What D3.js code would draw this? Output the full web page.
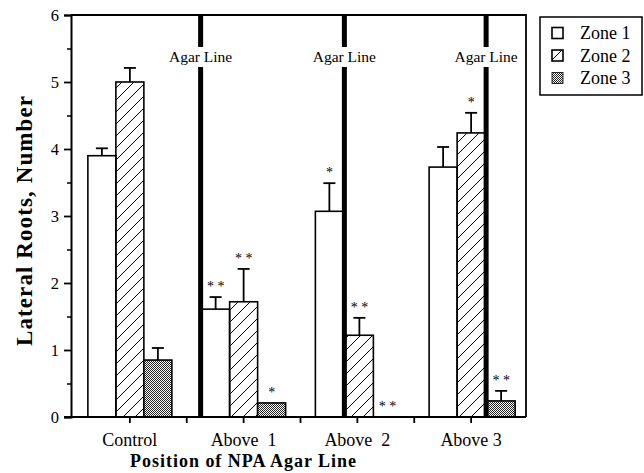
<!DOCTYPE html>
<html>
<head>
<meta charset="utf-8">
<script src="https://cdn.jsdelivr.net/npm/d3@7"></script>
<style>
  body { margin: 0; background: #fff; }
  svg { display: block; font-family: "Liberation Serif", "Times New Roman", serif; }
</style>
</head>
<body>
<div id="chart"></div>
<script>
const positions = ["Control", "Above  1", "Above  2", "Above 3"];
const zones = ["Zone 1", "Zone 2", "Zone 3"];

// mean lateral roots per zone, one array per zone
const zone1Means = [3.9, 1.61, 3.07, 3.73];
const zone2Means = [5.0, 1.72, 1.22, 4.24];
const zone3Means = [0.85, 0.21, 0.0, 0.24];

// top of the error bars (null = none drawn)
const zone1Err = [4.01, 1.79, 3.49, 4.03];
const zone2Err = [5.21, 2.21, 1.48, 4.54];
const zone3Err = [1.03, null, null, 0.39];

// significance marks
const zone1Stars = ["", "* *", "*", ""];
const zone2Stars = ["", "* *", "* *", "*"];
const zone3Stars = ["", "*", "* *", "* *"];

// where the agar line sits in each group: zone boundary index (null = no line)
const agarBoundary = [null, 0, 1, 2];
const yTicks = [0, 1, 2, 3, 4, 5, 6];

const width = 644, height = 473;
const plot = { left: 71, right: 526, top: 15, bottom: 417 };

const svg = d3.select("#chart").append("svg")
  .attr("width", width)
  .attr("height", height);

const defs = svg.append("defs");
const hatch = defs.append("pattern")
  .attr("id", "hatch")
  .attr("patternUnits", "userSpaceOnUse")
  .attr("width", 12).attr("height", 12);
hatch.append("path")
  .attr("d", "M0,12 L12,0 M-3,3 L3,-3 M9,15 L15,9")
  .attr("stroke", "#000").attr("stroke-width", 1);

const stip = defs.append("pattern")
  .attr("id", "stipple")
  .attr("patternUnits", "userSpaceOnUse")
  .attr("width", 2).attr("height", 2);
stip.append("rect").attr("width", 2).attr("height", 2).attr("fill", "#fff");
stip.append("rect").attr("width", 1).attr("height", 1).attr("fill", "#222");
stip.append("rect").attr("x", 1).attr("y", 1).attr("width", 1).attr("height", 1).attr("fill", "#222");

const fills = ["#fff", "url(#hatch)", "url(#stipple)"];

const x = d3.scaleBand().domain(positions).range([73, 528]);
const xZone = d3.scaleBand().domain(zones).range([0, 84]);
const y = d3.scaleLinear().domain([0, 6]).range([plot.bottom, plot.top]);

const means = [zone1Means, zone2Means, zone3Means];
const errs = [zone1Err, zone2Err, zone3Err];
const stars = [zone1Stars, zone2Stars, zone3Stars];

const bars = [];
positions.forEach((p, i) => {
  zones.forEach((z, j) => {
    const shift = agarBoundary[i] !== null && j >= agarBoundary[i] && agarBoundary[i] > 0 ? 2 : 0;
    bars.push({
      pos: p, zone: z, j,
      x0: x(p) + x.bandwidth() / 2 - 42 + xZone(z) + shift,
      value: means[j][i], err: errs[j][i], star: stars[j][i]
    });
  });
});

// bars
svg.append("g").selectAll("rect")
  .data(bars.filter(d => d.value > 0))
  .join("rect")
  .attr("x", d => d.x0)
  .attr("y", d => y(d.value))
  .attr("width", xZone.bandwidth())
  .attr("height", d => y(0) - y(d.value))
  .attr("fill", d => fills[d.j])
  .attr("stroke", "#000")
  .attr("stroke-width", 1.6);

// error bars
const eb = svg.append("g").attr("stroke", "#000").attr("stroke-width", 1.8);
bars.filter(d => d.err !== null).forEach(d => {
  const cx = d.x0 + xZone.bandwidth() / 2;
  eb.append("line").attr("x1", cx).attr("x2", cx).attr("y1", y(d.value)).attr("y2", y(d.err));
  eb.append("line").attr("x1", cx - 6).attr("x2", cx + 6).attr("y1", y(d.err)).attr("y2", y(d.err));
});

// asterisks
svg.append("g").selectAll("text")
  .data(bars.filter(d => d.star))
  .join("text")
  .attr("x", d => d.x0 + xZone.bandwidth() / 2)
  .attr("y", d => y(d.err !== null ? d.err : d.value) - 6)
  .attr("text-anchor", "middle")
  .style("font-size", "14px")
  .attr("fill", "#000")
  .text(d => d.star);

// frame
svg.append("path")
  .attr("d", `M${plot.left},${plot.top}H${plot.right}V${plot.bottom}`)
  .attr("fill", "none").attr("stroke", "#000").attr("stroke-width", 1.8);

// agar lines
positions.forEach((p, i) => {
  if (agarBoundary[i] === null) return;
  const lx = x(p) + x.bandwidth() / 2 - 42 + 28 * agarBoundary[i] + (agarBoundary[i] === 0 ? -1 : 1);
  svg.append("line")
    .attr("x1", lx).attr("x2", lx)
    .attr("y1", plot.top).attr("y2", plot.bottom)
    .attr("stroke", "#000").attr("stroke-width", 5);
  svg.append("rect")
    .attr("x", lx - 4).attr("y", 47).attr("width", 8).attr("height", 20)
    .attr("fill", "#fff");
  svg.append("text")
    .attr("x", lx).attr("y", 62)
    .attr("text-anchor", "middle")
    .style("font-size", "15.5px")
    .text("Agar Line");
});

// y axis
const yAxis = svg.append("g")
  .attr("transform", `translate(${plot.left},0)`)
  .call(d3.axisLeft(y).tickValues(yTicks).tickSize(7).tickPadding(5).tickFormat(d3.format("d")));
yAxis.select(".domain").attr("stroke-width", 2);
yAxis.selectAll(".tick line").attr("stroke-width", 1.8);
yAxis.selectAll("text").style("font-size", "16.5px").style("font-family", "Liberation Serif");
svg.append("g")
  .attr("transform", `translate(${plot.left},0)`)
  .call(d3.axisLeft(y).tickValues([0.5, 1.5, 2.5, 3.5, 4.5, 5.5]).tickSize(4).tickFormat(""))
  .call(g => g.select(".domain").remove())
  .selectAll("line").attr("stroke-width", 1.5);

// x axis
const xAxisG = svg.append("g").attr("transform", `translate(0,${plot.bottom})`);
xAxisG.append("line")
  .attr("x1", plot.left - 7).attr("x2", plot.right)
  .attr("stroke", "#000").attr("stroke-width", 2);
const xTickPos = positions.map(p => x(p) + x.bandwidth() / 2)
  .concat(positions.slice(1).map(p => x(p)));
xAxisG.selectAll(".xt")
  .data(xTickPos)
  .join("line")
  .attr("x1", d => d).attr("x2", d => d)
  .attr("y1", 0).attr("y2", 6)
  .attr("stroke", "#000").attr("stroke-width", 1.8);
xAxisG.selectAll(".xl")
  .data(positions)
  .join("text")
  .attr("x", d => x(d) + x.bandwidth() / 2)
  .attr("y", 29)
  .attr("text-anchor", "middle")
  .style("font-size", "18px")
  .style("white-space", "pre")
  .attr("xml:space", "preserve")
  .text(d => d);

svg.append("text")
  .attr("x", 243).attr("y", 467)
  .attr("text-anchor", "middle")
  .attr("textLength", 226)
  .style("font-size", "18px").style("font-weight", "bold")
  .text("Position of NPA Agar Line");

svg.append("text")
  .attr("transform", "rotate(-90)")
  .attr("x", -221).attr("y", 32)
  .attr("text-anchor", "middle")
  .attr("textLength", 250)
  .style("font-size", "23px").style("font-weight", "bold")
  .text("Lateral Roots, Number");

// legend
const lg = svg.append("g");
lg.append("rect")
  .attr("x", 540).attr("y", 17).attr("width", 102).attr("height", 78)
  .attr("fill", "#fff").attr("stroke", "#000").attr("stroke-width", 1.5);
zones.forEach((z, j) => {
  const ly = 33 + j * 22.5;
  lg.append("rect")
    .attr("x", 552).attr("y", ly - 5.5).attr("width", 11).attr("height", 11)
    .attr("fill", fills[j]).attr("stroke", "#000").attr("stroke-width", j === 2 ? 0.8 : 1.6);
  lg.append("text")
    .attr("x", 580).attr("y", ly + 6)
    .style("font-size", "18px")
    .text(z);
});
</script>
</body>
</html>
